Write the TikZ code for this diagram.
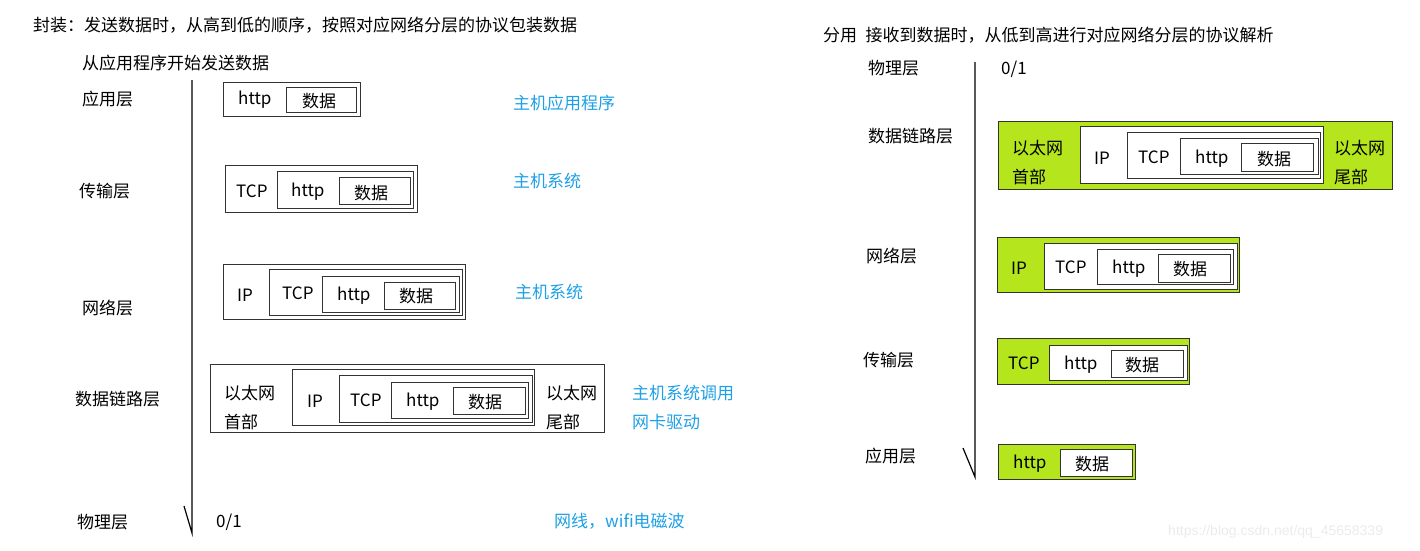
\documentclass[tikz,border=0pt]{standalone}
\usepackage{fontspec}
\setmainfont{Noto Sans CJK SC}
\newfontfamily\wmfont{Liberation Sans}
\definecolor{layergreen}{RGB}{181,230,29}
\definecolor{noteblue}{RGB}{30,160,230}
\definecolor{wmgray}{RGB}{235,235,235}
\begin{document}
\begin{tikzpicture}[x=1pt,y=-1pt,
    txt/.style={anchor=west,inner sep=0pt,font=\fontsize{17}{20}\selectfont},
    lat/.style={txt,yshift=-2pt},
    note/.style={txt,text=noteblue},
    box/.style={draw=black!80,line width=1pt},
    gbox/.style={box,fill=layergreen},
    wbox/.style={box,fill=white},
    axis/.style={line width=1.2pt}]
  \useasboundingbox (0,0) rectangle (1420,550);

  % encapsulation (left)
  \node[txt] (encTitle) at (33,25) {封装：发送数据时，从高到低的顺序，按照对应网络分层的协议包装数据};
  \node[txt] (encStart) at (82,63) {从应用程序开始发送数据};
  \node[txt] (lApp) at (82,99) {应用层};
  \node[txt] (lTrans) at (79,191) {传输层};
  \node[txt] (lNet) at (82,308) {网络层};
  \node[txt] (lLink) at (75,399) {数据链路层};
  \node[txt] (lPhy) at (77,522) {物理层};
  \node[lat] (lBits) at (216,520) {0/1};

  \coordinate (sendTop) at (192,80);
  \coordinate (sendBot) at (192,533);
  \coordinate (sendTick) at (184,506);
  \draw[axis] (sendTop) -- (sendBot) -- (sendTick);

  % application
  \draw[box] (223,82) rectangle (360,116);
  \draw[box] (286,87) rectangle (356,112);
  \node[lat] (aHttp) at (238,98) {http};
  \node[txt] (aData) at (302,101) {数据};

  % transport
  \draw[box] (225,165) rectangle (417,212);
  \draw[box] (277,171) rectangle (413,208);
  \draw[box] (339,177) rectangle (410,204);
  \node[lat] (tTcp) at (236,189) {TCP};
  \node[lat] (tHttp) at (291,190) {http};
  \node[txt] (tData) at (354,193) {数据};

  % network
  \draw[box] (223,264) rectangle (465,319);
  \draw[box] (269,269) rectangle (462,315);
  \draw[box] (322,276) rectangle (459,312);
  \draw[box] (384,282) rectangle (455,309);
  \node[lat] (nIp) at (237,293) {IP};
  \node[lat] (nTcp) at (282,291) {TCP};
  \node[lat] (nHttp) at (337,294) {http};
  \node[txt] (nData) at (399,296) {数据};

  % data link
  \draw[box] (210,364) rectangle (604,432);
  \draw[box] (292,369) rectangle (534,425);
  \draw[box] (339,375) rectangle (532,422);
  \draw[box] (391,382) rectangle (528,418);
  \draw[box] (453,387) rectangle (525,414);
  \node[txt] (dHead) at (224,393) {以太网};
  \node[txt] (dHead2) at (224,422) {首部};
  \node[lat] (dIp) at (307,399) {IP};
  \node[lat] (dTcp) at (350,398) {TCP};
  \node[lat] (dHttp) at (406,400) {http};
  \node[txt] (dData) at (468,402) {数据};
  \node[txt] (dTail) at (546,393) {以太网};
  \node[txt] (dTail2) at (546,422) {尾部};

  % notes
  \node[note] (noteApp) at (513,103) {主机应用程序};
  \node[note] (noteTrans) at (513,181) {主机系统};
  \node[note] (noteNet) at (515,292) {主机系统};
  \node[note] (noteLink) at (632,393) {主机系统调用};
  \node[note] (noteLink2) at (632,422) {网卡驱动};
  \node[note] (notePhy) at (554,521) {网线，wifi电磁波};

  % demultiplexing (right)
  \node[txt] (decTitle) at (823,35) {分用\enspace 接收到数据时，从低到高进行对应网络分层的协议解析};
  \node[txt] (rPhy) at (868,68) {物理层};
  \node[lat] (rBits) at (1001,67) {0/1};
  \node[txt] (rLink) at (868,136) {数据链路层};
  \node[txt] (rNet) at (866,256) {网络层};
  \node[txt] (rTrans) at (863,360) {传输层};
  \node[txt] (rApp) at (865,456) {应用层};

  \coordinate (recvTop) at (975,62);
  \coordinate (recvBot) at (975,477);
  \coordinate (recvTick) at (963,448);
  \draw[axis] (recvTop) -- (recvBot) -- (recvTick);

  % data link
  \draw[gbox] (998,121) rectangle (1392,189);
  \draw[wbox] (1080,126) rectangle (1323,183);
  \draw[wbox] (1127,132) rectangle (1320,178);
  \draw[wbox] (1180,138) rectangle (1318,174);
  \draw[wbox] (1241,143) rectangle (1313,171);
  \node[txt] (eHead) at (1012,148) {以太网};
  \node[txt] (eHead2) at (1012,177) {首部};
  \node[lat] (eIp) at (1094,156) {IP};
  \node[lat] (eTcp) at (1138,155) {TCP};
  \node[lat] (eHttp) at (1195,157) {http};
  \node[txt] (eData) at (1257,159) {数据};
  \node[txt] (eTail) at (1334,148) {以太网};
  \node[txt] (eTail2) at (1334,177) {尾部};

  % network
  \draw[gbox] (997,237) rectangle (1239,292);
  \draw[wbox] (1044,243) rectangle (1237,289);
  \draw[wbox] (1097,249) rectangle (1233,284);
  \draw[wbox] (1158,254) rectangle (1230,282);
  \node[lat] (mIp) at (1011,266) {IP};
  \node[lat] (mTcp) at (1055,265) {TCP};
  \node[lat] (mHttp) at (1112,267) {http};
  \node[txt] (mData) at (1173,269) {数据};

  % transport
  \draw[gbox] (997,338) rectangle (1189,384);
  \draw[wbox] (1049,345) rectangle (1187,380);
  \draw[wbox] (1111,350) rectangle (1183,377);
  \node[lat] (sTcp) at (1008,361) {TCP};
  \node[lat] (sHttp) at (1064,363) {http};
  \node[txt] (sData) at (1125,365) {数据};

  % application
  \draw[gbox] (998,444) rectangle (1135,479);
  \draw[wbox] (1060,449) rectangle (1132,476);
  \node[lat] (pHttp) at (1013,462) {http};
  \node[txt] (pData) at (1075,464) {数据};

  \node[anchor=west,inner sep=0pt,text=wmgray,font=\wmfont\fontsize{14}{16}\selectfont] (wmark) at (1168,532) {https://blog.csdn.net/qq\_45658339};
\end{tikzpicture}
\end{document}
